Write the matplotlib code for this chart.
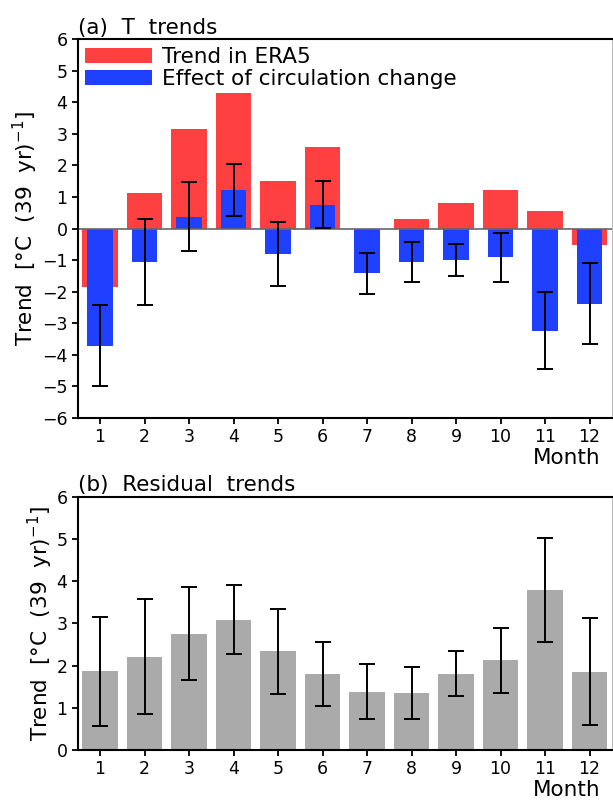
import matplotlib
matplotlib.use("Agg")
import matplotlib.pyplot as plt
import numpy as np

plt.rcParams['font.family'] = ['DejaVu Sans']

# data
months = np.arange(1, 13)
era5_trend = [-1.86, 1.14, 3.16, 4.31, 1.52, 2.57, 0.0, 0.30, 0.82, 1.22, 0.56, -0.52]
circ_effect = [-3.72, -1.07, 0.38, 1.22, -0.80, 0.75, -1.41, -1.07, -0.99, -0.90, -3.23, -2.38]
circ_lo = [-5.00, -2.43, -0.71, 0.41, -1.82, 0.01, -2.07, -1.69, -1.51, -1.69, -4.46, -3.65]
circ_hi = [-2.43, 0.29, 1.49, 2.05, 0.20, 1.52, -0.76, -0.44, -0.48, -0.13, -2.01, -1.10]

residual = [1.87, 2.20, 2.76, 3.08, 2.34, 1.80, 1.38, 1.35, 1.81, 2.13, 3.79, 1.85]
resid_lo = [0.58, 0.85, 1.67, 2.27, 1.32, 1.05, 0.73, 0.74, 1.29, 1.35, 2.57, 0.59]
resid_hi = [3.16, 3.57, 3.87, 3.90, 3.34, 2.57, 2.03, 1.97, 2.34, 2.90, 5.02, 3.13]

ylab = r'Trend  [°C  (39  yr)$^{-1}$]'
fs = 15.5     # labels, titles, legend
fs_tick = 12.5

fig = plt.figure(figsize=(6.13, 8), dpi=100)
ax1 = fig.add_axes([0.127, 0.4775, 0.871, 0.4735])
ax2 = fig.add_axes([0.127, 0.0625, 0.871, 0.3165])


def style(ax):
    ax.set_xlim(0.5, 12.5)
    ax.set_xticks(months)
    ax.tick_params(direction='out', length=4.5, width=1.3, labelsize=fs_tick, pad=3)
    for s in ax.spines.values():
        s.set_linewidth(1.5)
    ax.spines['right'].set_color('#bbbbbb')
    ax.spines['right'].set_linewidth(0.8)
    ax.set_ylabel(ylab, fontsize=fs, labelpad=1)
    ax.annotate('Month', xy=(1, 0), xycoords='axes fraction', xytext=(-11, -40),
                textcoords='offset pixels', ha='right', va='center', fontsize=fs)


# (a) T trends
c_lo = np.array(circ_effect) - np.array(circ_lo)
c_hi = np.array(circ_hi) - np.array(circ_effect)
ax1.bar(months, era5_trend, width=0.8, color='#ff4040', label='Trend in ERA5')
ax1.bar(months, circ_effect, width=0.58, color='#2040ff', label='Effect of circulation change')
ax1.axhline(0, color='#666666', lw=1.2)
ax1.errorbar(months, circ_effect, yerr=[c_lo, c_hi], fmt='none', ecolor='black',
             elinewidth=1.4, capsize=5.5, capthick=1.4)
ax1.set_ylim(-6, 6)
ax1.set_yticks(np.arange(-6, 7, 1))
style(ax1)
ax1.set_title('(a)  T  trends', loc='left', fontsize=fs, pad=4)
ax1.legend(loc='upper left', frameon=False, fontsize=fs, handlelength=3.1,
           handleheight=0.68, handletextpad=0.45, labelspacing=0.1,
           borderaxespad=0.15, borderpad=0.2)

# (b) Residual trends
r_lo = np.array(residual) - np.array(resid_lo)
r_hi = np.array(resid_hi) - np.array(residual)
ax2.bar(months, residual, width=0.8, color='#aaaaaa')
ax2.errorbar(months, residual, yerr=[r_lo, r_hi], fmt='none', ecolor='black',
             elinewidth=1.4, capsize=5.5, capthick=1.4)
ax2.set_ylim(0, 6)
ax2.set_yticks(np.arange(0, 7, 1))
style(ax2)
ax2.set_title('(b)  Residual  trends', loc='left', fontsize=fs, pad=4)

fig.savefig('out.png', dpi=100)
